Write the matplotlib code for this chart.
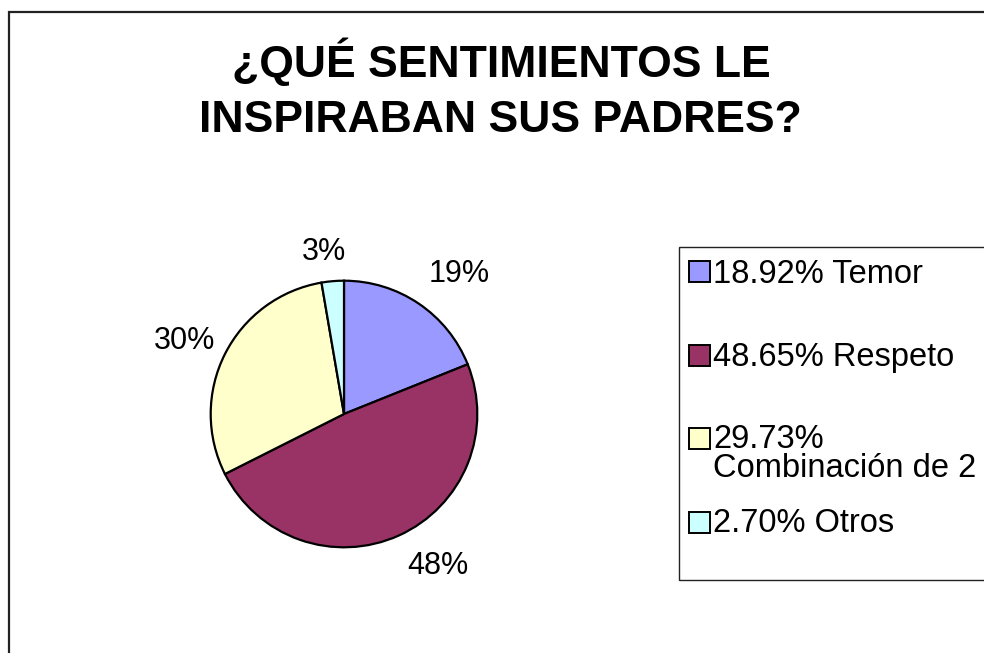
import numpy as np
import matplotlib
matplotlib.use("Agg")
import matplotlib.pyplot as plt
from matplotlib.patches import Rectangle

plt.rcParams['font.family'] = ['Liberation Sans', 'DejaVu Sans']

# ---- data ----
categories = ["Temor", "Respeto", "Combinación de 2", "Otros"]
values = [18.92, 48.65, 29.73, 2.70]
pie_labels = ["19%", "48%", "30%", "3%"]
legend_labels = ["18.92% Temor", "48.65% Respeto", "29.73%\nCombinación de 2", "2.70% Otros"]
colors = ["#9999FF", "#993366", "#FFFFCC", "#CCFFFF"]
title_lines = ["¿QUÉ SENTIMIENTOS LE", "INSPIRABAN SUS PADRES?"]

# small label nudges (pixels) to mimic Excel's label placement
label_nudge_px = [(0, 0), (1, 0), (6, -10), (-7, -3)]

W, H = 984, 653
fig = plt.figure(figsize=(W / 100, H / 100), dpi=100)
fig.patch.set_facecolor("white")


def fx(x):
    return x / W


def fy(y):
    return 1 - y / H


# outer chart frame (cut at right/bottom like the reference)
fig.patches.append(Rectangle((fx(8.5), fy(700)), fx(1100), fy(11.5) - fy(700),
                             transform=fig.transFigure, fill=False,
                             edgecolor="#222222", linewidth=1.6))

# title
fig.text(fx(501), fy(77), title_lines[0], ha="center", va="baseline",
         fontsize=32, fontweight="bold")
fig.text(fx(500), fy(132), title_lines[1], ha="center", va="baseline",
         fontsize=32, fontweight="bold")

# pie axes: center (344,414), radius 133 px
cx, cy, r = 344, 414, 133.3
half = 1.5 * r
ax = fig.add_axes([fx(cx - half), fy(cy + half), 2 * half / W, 2 * half / H])
ax.axis("off")

wedges, _ = ax.pie(values, colors=colors, startangle=90, counterclock=False,
                   radius=1.0, wedgeprops=dict(edgecolor="black", linewidth=1.6))
ax.set_aspect("auto")
ax.set_xlim(-1.5, 1.5)
ax.set_ylim(-1.5, 1.5)

d = 1.13
for w, lab, (nx, ny) in zip(wedges, pie_labels, label_nudge_px):
    th = np.deg2rad((w.theta1 + w.theta2) / 2)
    c, s = np.cos(th), np.sin(th)
    ha = "left" if c > 0.2 else ("right" if c < -0.2 else "center")
    va = "bottom" if s > 0 else "top"
    ax.annotate(lab, xy=(d * c, d * s), xytext=(nx * 0.72, ny * 0.72),
                textcoords="offset points", ha=ha, va=va, fontsize=22)

# legend (manual, Excel-like)
fig.patches.append(Rectangle((fx(679), fy(580)), fx(1000) - fx(679), fy(247) - fy(580),
                             transform=fig.transFigure, fill=False,
                             edgecolor="#222222", linewidth=1.0))
sq_tops = [261, 345, 428, 512]
baselines = [283, 366, 448, 532]
for col, lab, top, base in zip(colors, legend_labels, sq_tops, baselines):
    fig.patches.append(Rectangle((fx(689), fy(top + 21)), 21 / W, 21 / H,
                                 transform=fig.transFigure, facecolor=col,
                                 edgecolor="black", linewidth=1.4))
    lines = lab.split("\n")
    for i, ln in enumerate(lines):
        fig.text(fx(713), fy(base + 29 * i), ln, ha="left", va="baseline", fontsize=23.5)

fig.savefig("out.png", dpi=100, facecolor="white")
